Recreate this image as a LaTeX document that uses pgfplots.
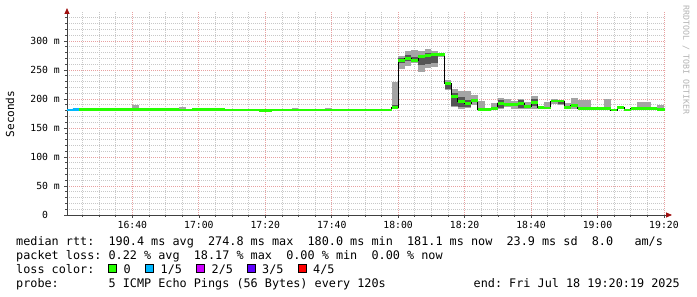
\documentclass[border=0pt]{standalone}
\usepackage{fontspec}
\setmainfont{DejaVu Sans Mono}
\usepackage{pgfplots}
\pgfplotsset{compat=1.18}
\usepackage{pgfplotstable}
\usetikzlibrary{arrows.meta}
\definecolor{loss0}{HTML}{26FF00}
\definecolor{loss1}{HTML}{00B8FF}
\definecolor{loss2}{HTML}{CE00FF}
\definecolor{loss3}{HTML}{5E00FF}
\definecolor{loss4}{HTML}{FF0000}
\definecolor{smokeL}{HTML}{A4A4A4}
\definecolor{smokeD}{HTML}{555555}
\definecolor{gridmajor}{HTML}{E8A0A0}
\definecolor{gridminor}{HTML}{C8C8C8}
\definecolor{arrowred}{HTML}{A01010}
\definecolor{wmark}{HTML}{B4B4B4}

% t = minutes after 16:00 (start of each 2-minute step)
\pgfplotstableread{
t med lo hi dlo dhi
20 181 181 181 181 181
22 181.5 181.5 181.5 181.5 181.5
24 182 182 182 182 182
26 182 182 182 182 182
28 182 182 182 182 182
30 182 182 182 182 182
32 182 182 182 182 182
34 182 182 182 182 182
36 182 182 182 182 182
38 182 182 182 182 182
40 182 181 190 182 182
42 182 182 182 182 182
44 182 182 182 182 182
46 182 182 182 182 182
48 182 182 182 182 182
50 182 182 182 182 182
52 181.5 181.5 181.5 181.5 181.5
54 181 181 186 181 181
56 181 181 181 181 181
58 182 182 182 182 182
60 182 182 182 182 182
62 182 182 182 182 182
64 182 182 182 182 182
66 181.5 181.5 181.5 181.5 181.5
68 181 181 181 181 181
70 181 181 181 181 181
72 181 181 181 181 181
74 181 181 181 181 181
76 181 181 181 181 181
78 180.5 180.5 180.5 180.5 180.5
80 180.5 180.5 180.5 180.5 180.5
82 181 181 181 181 181
84 181 181 181 181 181
86 181 181 181 181 181
88 181 181 184 181 181
90 181 181 181 181 181
92 181 181 181 181 181
94 181 181 181 181 181
96 181 181 181 181 181
98 181 181 184 181 181
100 181 181 181 181 181
102 181 181 181 181 181
104 181 181 181 181 181
106 181 181 181 181 181
108 181 181 181 181 181
110 181 181 181 181 181
112 181 181 181 181 181
114 181 181 181 181 181
116 181 181 181 181 181
118 186 184 230 184 190
120 267 252 274 262 270
122 270 257 283 265 275
124 267 262 284 265 272
126 273 247 282 258 276
128 275 253 287 260 280
130 276 256 282 262 279
132 277 272 280 274 279
134 226 216 233 218 229
136 205 186 217 188 210
138 195 182 214 186 203
140 192 184 213 187 198
142 198 190 207 195 200
144 182 181 196 182 182
146 181.5 181.5 181.5 181.5 181.5
148 184 182 193 184 184
150 192 182 202 185 198
152 191 187 200 191 191
154 190 182 196 190 190
156 193 182 200 184 198
158 187 182 194 187 187
160 194 183 205 188 200
162 185 182 187 185 185
164 184.5 182 194 184.5 184.5
166 196.5 192 200 196.5 196.5
168 196.5 190 198 192 196
170 185 183 193 185 185
172 188.5 182 201 188.5 188.5
174 184 182 198 184 184
176 183 182 198 183 183
178 183 183 183 183 183
180 183 183 183 183 183
182 183 182 200 183 183
184 181 180 183 180 182
186 185 183 186 185 185
188 181 181 181 181 181
190 184 184 184 184 184
192 184 182 194 184 184
194 184 182 194 184 184
196 183.5 183.5 183.5 183.5 183.5
198 182 181 190 182 182
200.32 182 181 190 182 182
}\ping

% steps with 1/5 packet loss
\pgfplotstableread{
t med
20 181
22 181.5
24 181.5
}\pingblue

\newcommand\legfont{\fontsize{11.85}{13}\selectfont}
\newcommand\tickfont{\fontsize{9.8}{11}\selectfont}

\begin{document}\frenchspacing
\begin{tikzpicture}
\useasboundingbox (0bp,0bp) rectangle (697bp,297bp);
\fill[white] (0bp,0bp) rectangle (697bp,297bp);
\begin{axis}[
  at={(67bp,82bp)}, anchor=south west,
  scale only axis, width=598bp, height=203bp,
  xmin=20.32, xmax=200.32, ymin=0, ymax=350,
  axis x line=bottom, axis y line=left,
  x axis line style={black!75, line width=0.8bp, shorten >=-7bp,
     -{Triangle[length=6bp,width=5bp,color=arrowred]}},
  y axis line style={black!75, line width=0.8bp, shorten >=-4bp,
     -{Triangle[length=6bp,width=5bp,color=arrowred]}},
  xtick={40,60,...,200},
  xticklabels={16:40,17:00,17:20,17:40,18:00,18:20,18:40,19:00,19:20},
  minor xtick={25,30,...,200},
  ytick={0,50,...,300},
  yticklabels={0\phantom{~m},50~m,100~m,150~m,200~m,250~m,300~m},
  minor ytick={10,20,...,340},
  grid=both,
  major grid style={gridmajor, line width=0.7bp, dash pattern=on 1bp off 1bp},
  minor grid style={gridminor, line width=0.7bp, dash pattern=on 1bp off 1bp},
  tick align=outside,
  major tick length=3bp, minor tick length=2bp,
  tick style={black!70, line width=0.6bp},
  ticklabel style={font=\tickfont},
  xticklabel style={anchor=north, inner sep=0pt, yshift=-3bp},
  yticklabel style={anchor=east, inner sep=0pt, xshift=-4bp},
]
% smoke, light: a bar from lo to hi across each 2-minute step
\addplot[draw=none, mark=none, forget plot,
  error bars/.cd, y dir=plus, y explicit, error mark=none,
  error bar style={draw=smokeL, solid, line width=6.64bp}]
  table[x expr=\thisrow{t}+1, y=lo, y error expr=\thisrow{hi}-\thisrow{lo}]{\ping};
% smoke, dark
\addplot[draw=none, mark=none, forget plot,
  error bars/.cd, y dir=plus, y explicit, error mark=none,
  error bar style={draw=smokeD, solid, line width=6.64bp}]
  table[x expr=\thisrow{t}+1, y=dlo, y error expr=\thisrow{dhi}-\thisrow{dlo}]{\ping};
% median line
\addplot[const plot, black, line width=1bp, forget plot] table[x=t,y=med]{\ping};
% loss coloured median band
\addplot[jump mark left, loss0, line width=2.9bp, forget plot] table[x=t,y=med]{\ping};
\addplot[jump mark left, loss1, line width=2.9bp, forget plot] table[x=t,y=med]{\pingblue};
\end{axis}

% axis title and watermark
\node[rotate=90, font=\fontsize{11.1}{12}\selectfont, inner sep=0pt] at (10bp,183bp) {Seconds};
\node[rotate=-90, anchor=west, font=\fontsize{8.3}{9}\selectfont, text=wmark, inner sep=0pt] at (686bp,292bp) {RRDTOOL / TOBI OETIKER};

% legend text
\node[anchor=base west, inner sep=0pt, font=\legfont] at (16bp,51.4bp)
  {median~rtt:~~190.4~ms~avg~~274.8~ms~max~~180.0~ms~min~~181.1~ms~now~~23.9~ms~sd~~8.0~~~am/s};
\node[anchor=base west, inner sep=0pt, font=\legfont] at (16bp,37.7bp)
  {packet~loss:~0.22~\%~avg~~18.17~\%~max~~0.00~\%~min~~0.00~\%~now};
\node[anchor=base west, inner sep=0pt, font=\legfont] at (16bp,23.8bp) {loss~color:};
\foreach \bx/\col/\lab in {108.5/loss0/0, 145.5/loss1/1\slash5, 196.5/loss2/2\slash5, 247/loss3/3\slash5, 298/loss4/4\slash5}{
  \filldraw[fill=\col, draw=black, line width=0.8bp] ({\bx*1bp},24.2bp) rectangle +(8bp,8bp);
  \node[anchor=base west, inner sep=0pt, font=\legfont] at ({(\bx+15)*1bp},23.8bp) {\lab};
}
\node[anchor=base west, inner sep=0pt, font=\legfont] at (16bp,9.7bp)
  {probe:~~~~~~~5~ICMP~Echo~Pings~(56~Bytes)~every~120s};
\node[anchor=base east, inner sep=0pt, font=\legfont] at (680bp,9.7bp)
  {end:~Fri~Jul~18~19:20:19~2025};
\end{tikzpicture}
\end{document}
